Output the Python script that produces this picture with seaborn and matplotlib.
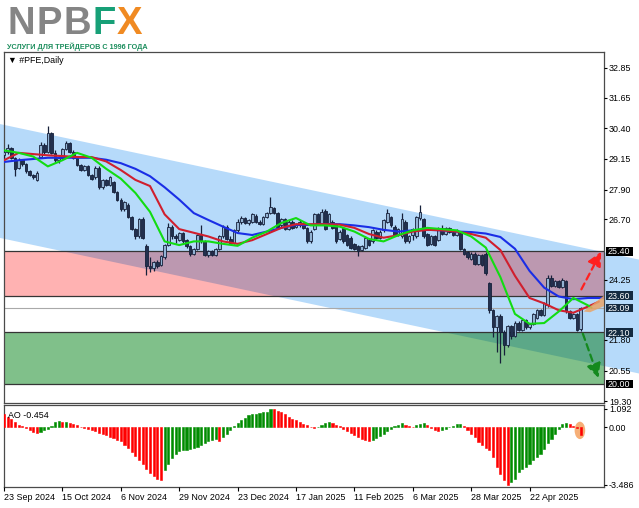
import numpy as np
import pandas as pd
import matplotlib
matplotlib.use("Agg")
import matplotlib.pyplot as plt
import matplotlib.transforms as mtransforms
from matplotlib.patches import Polygon, Rectangle, Ellipse
from matplotlib import font_manager as fm
import seaborn as sns

# ---------------- data ----------------
opens = [29.30, 29.45, 29.60, 29.20, 28.80, 29.10, 28.95, 28.65, 28.50, 28.30,
         29.25, 29.70, 29.45, 30.20, 29.40, 29.10, 29.20, 29.55, 29.80, 29.45,
         29.20, 28.90, 28.70, 28.85, 28.50, 28.40, 28.80, 28.00, 28.30, 28.10,
         28.20, 27.80, 27.50, 27.10, 27.30, 26.80, 26.30, 26.00, 26.70, 25.60,
         24.80, 24.70, 24.95, 24.85, 25.15, 25.65, 26.40, 26.00, 25.85, 26.15,
         25.85, 25.60, 25.30, 25.50, 26.05, 25.80, 25.25, 25.40, 25.25, 25.50,
         26.00, 26.40, 25.90, 25.75, 26.25, 26.60, 26.75, 26.55, 26.60, 26.85,
         26.60, 26.50, 26.80, 26.95, 27.15, 26.95, 26.45, 26.70, 26.30, 26.60,
         26.40, 26.45, 26.55, 26.35, 25.80, 26.30, 26.90, 26.50, 27.05, 26.55,
         26.60, 26.50, 25.90, 26.35, 26.05, 25.95, 25.70, 25.60, 25.45, 25.55,
         25.85, 25.80, 26.20, 25.95, 26.25, 26.60, 26.80, 26.40, 26.05, 26.00,
         26.60, 25.80, 26.05, 26.00, 26.75, 26.70, 26.10, 25.70, 26.00, 25.85,
         26.35, 26.10, 26.35, 26.20, 26.05, 26.15, 25.50, 25.35, 25.10, 25.30,
         24.90, 25.25, 25.30, 24.10, 23.00, 22.30, 22.75, 22.10, 21.60, 22.35,
         21.95, 22.50, 22.20, 22.60, 22.30, 22.45, 22.70, 23.00, 22.80, 23.20,
         24.30, 24.00, 24.20, 23.95, 24.20, 22.95, 22.70, 22.85, 22.25]
highs = [29.55, 29.75, 29.65, 29.25, 29.20, 29.15, 29.00, 28.70, 28.55, 28.65,
         29.85, 29.80, 30.50, 30.25, 29.50, 29.30, 29.60, 29.90, 29.85, 29.50,
         29.25, 28.95, 28.90, 28.90, 28.55, 28.85, 28.85, 28.35, 28.35, 28.45,
         28.25, 27.85, 27.55, 27.45, 27.35, 26.85, 26.35, 26.75, 26.80, 25.70,
         25.15, 25.00, 25.05, 25.25, 25.70, 26.55, 26.45, 26.10, 26.20, 26.20,
         25.90, 25.65, 25.55, 26.10, 26.45, 25.85, 25.45, 25.45, 25.55, 26.05,
         26.45, 26.45, 26.00, 26.30, 26.70, 26.85, 26.80, 26.70, 26.95, 26.90,
         26.65, 26.85, 27.00, 27.60, 27.20, 27.00, 26.75, 26.75, 26.65, 26.65,
         26.55, 26.65, 26.60, 26.40, 26.25, 26.95, 26.95, 27.10, 27.10, 26.95,
         26.65, 26.55, 26.25, 26.40, 26.10, 26.00, 25.75, 25.65, 25.65, 26.00,
         25.90, 26.30, 26.25, 26.25, 26.70, 27.10, 26.85, 26.45, 26.35, 26.95,
         26.65, 26.05, 26.35, 26.85, 27.30, 26.75, 26.15, 26.05, 26.05, 26.40,
         26.45, 26.40, 26.40, 26.25, 26.30, 26.20, 25.55, 25.40, 25.35, 25.35,
         25.30, 25.30, 25.35, 24.15, 23.05, 22.80, 22.85, 22.20, 22.40, 22.40,
         22.55, 22.55, 22.65, 22.65, 22.50, 22.90, 23.05, 23.05, 23.35, 24.45,
         24.45, 24.25, 24.25, 24.30, 24.25, 23.00, 22.90, 22.90, 23.15]
lows = [29.20, 29.35, 29.15, 28.45, 28.75, 28.85, 28.60, 28.45, 28.35, 28.25,
        29.20, 29.35, 29.40, 29.35, 29.00, 29.00, 29.15, 29.50, 29.40, 29.15,
        28.85, 28.65, 28.65, 28.45, 28.30, 28.35, 27.95, 27.95, 28.05, 28.05,
        27.75, 27.45, 27.05, 27.05, 26.75, 26.25, 25.90, 25.95, 25.90, 24.45,
        24.55, 24.60, 24.70, 24.80, 25.10, 25.60, 25.90, 25.75, 25.80, 25.75,
        25.55, 25.20, 25.25, 25.45, 25.75, 25.20, 25.15, 25.20, 25.20, 25.45,
        25.95, 25.85, 25.70, 25.70, 26.20, 26.50, 26.50, 26.45, 26.55, 26.55,
        26.45, 26.45, 26.75, 26.90, 26.90, 26.35, 26.40, 26.25, 26.25, 26.30,
        26.35, 26.40, 26.30, 25.75, 25.75, 26.25, 26.45, 26.45, 26.25, 26.50,
        26.30, 25.75, 25.85, 25.75, 25.60, 25.50, 25.45, 25.20, 25.40, 25.50,
        25.60, 25.75, 25.90, 25.90, 26.20, 26.55, 26.40, 26.00, 26.00, 25.95,
        25.75, 25.75, 25.85, 25.95, 26.65, 25.95, 25.60, 25.65, 25.60, 25.80,
        26.05, 26.05, 26.15, 26.00, 26.00, 25.45, 25.25, 25.10, 25.05, 24.85,
        24.85, 24.80, 24.45, 22.90, 21.90, 21.30, 20.85, 21.20, 21.50, 21.85,
        21.90, 22.15, 22.15, 22.25, 22.25, 22.40, 22.65, 22.75, 22.75, 23.15,
        23.95, 23.95, 23.90, 23.90, 22.90, 22.65, 22.65, 22.15, 22.15]
closes = [29.45, 29.60, 29.20, 28.75, 29.10, 28.95, 28.65, 28.50, 28.40, 28.60,
          29.70, 29.45, 30.20, 29.40, 29.10, 29.20, 29.55, 29.80, 29.45, 29.20,
          28.90, 28.70, 28.85, 28.50, 28.35, 28.80, 28.00, 28.30, 28.10, 28.40,
          27.80, 27.50, 27.10, 27.40, 26.80, 26.30, 26.00, 26.70, 25.95, 24.80,
          24.70, 24.95, 24.80, 25.20, 25.65, 26.40, 26.00, 25.95, 26.15, 25.80,
          25.60, 25.30, 25.50, 26.05, 25.80, 25.25, 25.40, 25.25, 25.50, 26.00,
          26.40, 25.90, 25.75, 26.25, 26.60, 26.75, 26.55, 26.65, 26.90, 26.60,
          26.50, 26.80, 26.95, 27.20, 26.95, 26.40, 26.70, 26.30, 26.60, 26.35,
          26.50, 26.60, 26.35, 25.80, 26.20, 26.90, 26.50, 27.00, 26.30, 26.90,
          26.35, 25.80, 26.20, 25.80, 25.65, 25.55, 25.50, 25.40, 25.60, 25.95,
          25.65, 26.25, 25.95, 26.20, 26.65, 26.95, 26.45, 26.05, 26.30, 26.70,
          25.80, 26.00, 26.30, 26.80, 27.00, 26.00, 25.65, 26.00, 25.65, 26.35,
          26.10, 26.35, 26.20, 26.05, 26.25, 25.50, 25.30, 25.15, 25.30, 24.90,
          25.25, 24.85, 24.50, 23.00, 22.30, 22.75, 22.10, 21.60, 22.35, 21.95,
          22.50, 22.20, 22.60, 22.30, 22.45, 22.85, 23.00, 22.80, 23.30, 24.30,
          24.00, 24.20, 23.95, 24.25, 22.95, 22.70, 22.85, 22.20, 23.09]

# Alligator lines (values read every 4 bars, incl. forward shift)
ma_grid = [0, 4, 8, 12, 16, 20, 24, 28, 32, 36, 40, 44, 48, 52, 56, 60, 64, 68, 72, 76,
           80, 84, 88, 92, 96, 100, 104, 108, 112, 116, 120, 124, 128, 132, 136, 140,
           144, 148, 152, 156, 160]
jaw_x = ma_grid + [164, 166]
jaw = [29.03, 29.10, 29.15, 29.20, 29.20, 29.20, 29.20, 29.12, 28.98, 28.75,
       28.45, 28.00, 27.50, 26.95, 26.67, 26.40, 26.14, 26.06, 26.20, 26.35,
       26.47, 26.47, 26.50, 26.50, 26.45, 26.38, 26.27, 26.20, 26.25, 26.27,
       26.25, 26.20, 26.18, 26.12, 25.98, 25.50, 24.60, 23.92, 23.56, 23.45,
       23.50, 23.50, 23.50]
teeth_x = ma_grid + [163]
teeth = [29.10, 29.40, 29.35, 29.30, 29.27, 29.23, 29.23, 29.05, 28.70, 28.30,
         28.05, 26.90, 26.30, 26.15, 26.00, 25.80, 25.70, 25.85, 26.10, 26.35,
         26.50, 26.50, 26.50, 26.48, 26.35, 26.10, 25.95, 26.05, 26.20, 26.27,
         26.25, 26.20, 26.10, 25.95, 25.45, 24.40, 23.50, 23.28, 23.00, 22.90,
         23.15, 23.35]
lips_x = ma_grid + [161]
lips = [29.50, 29.40, 29.25, 28.85, 29.10, 29.40, 29.20, 28.75, 28.35, 27.77,
        27.00, 25.80, 25.65, 25.80, 25.80, 25.70, 25.62, 25.95, 26.20, 26.55,
        26.75, 26.45, 26.45, 26.40, 26.20, 25.90, 25.80, 26.05, 26.25, 26.35,
        26.30, 26.25, 26.00, 25.55, 24.35, 22.85, 22.45, 22.48, 22.95, 23.50,
        23.20, 23.10]

# Awesome Oscillator
ao = [0.76, 0.62, 0.48, 0.30, 0.14, 0.04, -0.06, -0.16, -0.30, -0.36,
      -0.32, -0.18, -0.10, 0.08, 0.28, 0.34, 0.30, 0.33, 0.25, 0.18,
      0.10, 0.02, -0.06, -0.12, -0.20, -0.26, -0.33, -0.40, -0.48, -0.58,
      -0.66, -0.75, -0.85, -1.05, -1.25, -1.50, -1.75, -2.00, -2.25, -2.50,
      -2.75, -2.95, -3.10, -3.18, -2.60, -2.20, -1.85, -1.60, -1.47, -1.40,
      -1.37, -1.33, -1.25, -1.18, -1.05, -0.98, -0.85, -0.78, -0.70, -0.85,
      -0.60, -0.40, -0.20, 0.04, 0.24, 0.40, 0.52, 0.70, 0.76, 0.80,
      0.84, 0.88, 0.92, 1.092, 1.06, 0.98, 0.88, 0.76, 0.62, 0.50,
      0.40, 0.30, 0.20, 0.10, 0.02, -0.06, 0.00, 0.10, 0.22, 0.30,
      0.25, 0.12, 0.05, -0.10, -0.22, -0.35, -0.50, -0.62, -0.72, -0.80,
      -0.82, -0.75, -0.68, -0.55, -0.40, -0.25, -0.12, 0.05, 0.15, 0.24,
      0.14, 0.05, 0.02, 0.10, 0.20, 0.22, 0.12, -0.05, -0.20, -0.24,
      -0.18, -0.10, 0.00, 0.08, 0.18, 0.20, 0.05, -0.20, -0.40, -0.60,
      -0.90, -1.10, -1.25, -1.40, -1.80, -2.40, -2.80, -3.20, -3.486, -3.30,
      -3.10, -2.70, -2.55, -2.40, -2.20, -2.00, -1.80, -1.60, -1.35, -0.95,
      -0.70, -0.40, -0.10, 0.16, 0.26, 0.20, 0.08, -0.08, -0.454]

date_idx = [0, 16, 32, 48, 64, 80, 96, 112, 128, 144]
date_labels = ["23 Sep 2024", "15 Oct 2024", "6 Nov 2024", "29 Nov 2024", "23 Dec 2024",
               "17 Jan 2025", "11 Feb 2025", "6 Mar 2025", "28 Mar 2025", "22 Apr 2025"]
price_ticks = [32.85, 31.65, 30.40, 29.15, 27.90, 26.70, 24.25, 21.80, 20.55, 19.30]
ao_ticks = [1.092, 0.00, -3.486]
ao_tick_labels = ["1.092", "0.00", "-3.486"]

resist_zone = [23.60, 25.40]
support_zone = [20.00, 22.10]
level_values = [25.40, 23.60, 23.09, 22.10, 20.00]
level_box = ["#000000", "#142a40", "#142a40", "#142a40", "#000000"]
last_price = 23.09

chan_x = [-1.1, 174.0]
chan_upper = [30.57, 25.06]
chan_lower = [25.94, 20.43]

up_arrow = ([158.2, 163.6], [23.85, 25.38])
down_arrow = ([158.6, 162.9], [22.05, 20.25])
fan_x = [158.8, 164.6, 164.6, 160.6]
fan_y = [22.95, 23.62, 23.18, 22.92]
ao_mark = (157.8, -0.20)

logo_letters = ["N", "P", "B", "F", "X"]
logo_colors = ["#858585", "#858585", "#858585", "#17a077", "#f08a22"]
tagline = "УСЛУГИ ДЛЯ ТРЕЙДЕРОВ С 1996 ГОДА"

# ---------------- figure ----------------
sns.set_theme(style="white")
avail = {f.name for f in fm.fontManager.ttflist}
base_font = "Liberation Sans" if "Liberation Sans" in avail else "DejaVu Sans"
narrow_font = "Liberation Sans Narrow" if "Liberation Sans Narrow" in avail else base_font
plt.rcParams["font.family"] = [base_font, "DejaVu Sans"]

W, H = 639, 508
fig = plt.figure(figsize=(W / 100, H / 100), dpi=100)
fig.patch.set_facecolor("white")


def px_axes(x0, y0, x1, y1):
    return fig.add_axes([x0 / W, 1 - y1 / H, (x1 - x0) / W, (y1 - y0) / H])


ax = px_axes(3.5, 52, 604, 403)
aox = px_axes(3.5, 405, 604, 487)
XL = (-0.15, 164.4)
YL = (19.23, 33.50)
FS = 6.4
PX_PER_UNIT = 351 / (YL[1] - YL[0])

BLUE = "#b6dafa"
PINK = "#ffb2b2"
GREEN = "#80c08a"
PINK_OV = "#bc98b0"
GREEN_OV = "#5ca888"

# channel + zones
chan = Polygon([(chan_x[0], chan_upper[0]), (chan_x[1], chan_upper[1]),
                (chan_x[1], chan_lower[1]), (chan_x[0], chan_lower[0])],
               closed=True, fc=BLUE, ec="none", zorder=0.3, clip_on=False)
ax.add_patch(chan)
for (lo, hi), col, ov in ((resist_zone, PINK, PINK_OV), (support_zone, GREEN, GREEN_OV)):
    ax.add_patch(Rectangle((XL[0], lo), XL[1] - XL[0], hi - lo, fc=col, ec="none", zorder=0.4))
    r = Rectangle((XL[0], lo), XL[1] - XL[0], hi - lo, fc=ov, ec="none", zorder=0.5)
    ax.add_patch(r)
    r.set_clip_path(chan)

for v in resist_zone + support_zone:
    ax.axhline(v, color="#353535", lw=0.9, zorder=1)
ax.axhline(last_price, color="#a9a9a9", lw=0.8, zorder=1)

# candles
idx = np.arange(len(closes))
o, h, l, c = (np.array(a) for a in (opens, highs, lows, closes))
bull = c >= o
EDGE = "#16203a"
ax.vlines(idx, l, h, color=EDGE, lw=0.9, zorder=3)
bot = np.minimum(o, c)
ht = np.maximum(np.abs(c - o), 0.04)
ax.bar(idx[bull], ht[bull], bottom=bot[bull], width=0.72, color="#93b3d3",
       edgecolor=EDGE, lw=0.6, zorder=4)
ax.bar(idx[~bull], ht[~bull], bottom=bot[~bull], width=0.72, color="#22304e",
       edgecolor=EDGE, lw=0.6, zorder=4)

# alligator
for xs, ys, col in ((jaw_x, jaw, "#1a2ee6"), (teeth_x, teeth, "#d01f2e"), (lips_x, lips, "#12dc12")):
    sns.lineplot(x=xs, y=ys, ax=ax, color=col, lw=1.5, estimator=None, sort=False, zorder=5)

# forecast marks
ax.add_patch(Polygon(list(zip(fan_x, fan_y)), closed=True, fc="#e8a468", ec="none",
                     alpha=0.85, zorder=6))
ax.annotate("", xy=(up_arrow[0][1], up_arrow[1][1]), xytext=(up_arrow[0][0], up_arrow[1][0]),
            arrowprops=dict(arrowstyle="-|>,head_length=0.7,head_width=0.35", color="#ff2020",
                            lw=1.6, linestyle=(0, (3, 2)), shrinkA=0, shrinkB=0),
            annotation_clip=False, zorder=7)
ax.annotate("", xy=(down_arrow[0][1], down_arrow[1][1]), xytext=(down_arrow[0][0], down_arrow[1][0]),
            arrowprops=dict(arrowstyle="-|>,head_length=0.7,head_width=0.35", color="#14891e",
                            lw=1.6, linestyle=(0, (3, 2)), shrinkA=0, shrinkB=0),
            annotation_clip=False, zorder=7)

ax.set_xlim(*XL)
ax.set_ylim(*YL)
ax.set_xticks([])
ax.yaxis.tick_right()
ax.set_yticks(price_ticks)
ax.set_yticklabels([f"{v:.2f}" for v in price_ticks])
ax.tick_params(axis="y", direction="out", length=2.2, width=0.8, pad=1.4, labelsize=FS,
               colors="#000000", right=True, left=False)
ax.set_axisbelow(False)
ax.set_xlabel("")
ax.set_ylabel("")

# boxed price labels on the right scale (compact boxes)
trans = mtransforms.blended_transform_factory(ax.transAxes, ax.transData)
box_half = 4.4 / PX_PER_UNIT
cap_half = 3.1 / PX_PER_UNIT
bx0 = 1.5 / 600.5
bw_ax = 27.5 / 600.5
for v, fc in zip(level_values, level_box):
    ax.add_patch(Rectangle((1 + bx0, v - box_half), bw_ax, 2 * box_half, transform=trans,
                           fc=fc, ec="none", clip_on=False, zorder=9))
    ax.text(1 + bx0 + 2.5 / 600.5, v - cap_half, f"{v:.2f}", transform=trans, ha="left",
            va="baseline", fontsize=FS, color="white", zorder=10, clip_on=False)

ax.text(0.007, 0.977, "\u25BC #PFE,Daily", transform=ax.transAxes, fontsize=FS,
        va="center", ha="left", color="#000000", zorder=10,
        family=[base_font, "DejaVu Sans"])

# AO panel
ao_arr = np.array(ao)
prev = np.r_[np.inf, ao_arr[:-1]]
ao_cols = np.where(ao_arr > prev, "#008c00", "#ff0000")
aox.add_patch(Ellipse(ao_mark, width=2.9, height=1.05, fc="#f6a668", ec="none", alpha=0.9, zorder=1))
aox.bar(idx, ao_arr, width=0.58, color=ao_cols, edgecolor=ao_cols, lw=0.4, zorder=3)
aox.set_xlim(*XL)
aox.set_ylim(-3.61, 1.33)
aox.set_xlabel("")
aox.set_ylabel("")
aox.yaxis.tick_right()
aox.set_yticks(ao_ticks)
aox.set_yticklabels(ao_tick_labels)
aox.set_xticks(date_idx)
aox.set_xticklabels(date_labels, ha="left")
aox.tick_params(axis="y", direction="out", length=2.2, width=0.8, pad=1.4, labelsize=FS,
                right=True, left=False, colors="#000000")
aox.tick_params(axis="x", direction="out", length=3, width=0.8, pad=1.5, labelsize=FS,
                bottom=True, colors="#000000")
aox.set_axisbelow(False)
aox.text(0.007, 0.87, "AO -0.454", transform=aox.transAxes, fontsize=FS, va="center",
         ha="left", color="#000000")

for a in (ax, aox):
    for s in a.spines.values():
        s.set_visible(True)
        s.set_color("#4a4a4a")
        s.set_linewidth(0.9)

# logo
fig.canvas.draw()
rend = fig.canvas.get_renderer()
x = 7
for txt, col in zip(logo_letters, logo_colors):
    t = fig.text(x / W, 1 - 41.5 / H, txt, fontsize=27.5, fontweight="bold",
                 family=base_font, color=col, va="bottom", ha="left")
    bb = t.get_window_extent(rend)
    x = bb.x1 + 1.5
sub = fig.text(7 / W, 1 - 42.3 / H, tagline, fontsize=6.5,
               fontweight="bold", family=narrow_font, color="#1b8d5c", va="top", ha="left")
bw = sub.get_window_extent(rend).width
sub.set_fontsize(6.5 * 141 / bw)

fig.savefig("out.png", dpi=100)
